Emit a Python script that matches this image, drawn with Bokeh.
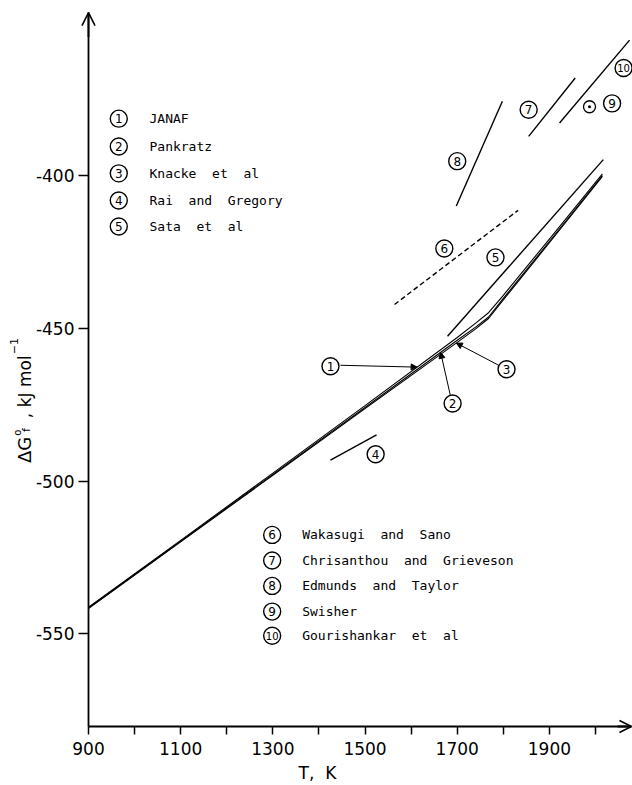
import math
import numpy as np
from bokeh.plotting import figure
from bokeh.models import Range1d, FixedTicker, Arrow, OpenHead, NormalHead, Label
from bokeh.core.properties import value
from bokeh.embed import file_html
from bokeh.resources import INLINE

# ---------------- data ----------------
# main assessed curves (T in K, dGf in kJ/mol)
T_curve    = [900, 1100, 1300, 1500, 1700, 1740, 1768, 1800, 1900, 2015]
G_janaf    = [-541.3, -519.4, -497.4, -475.3, -453.0, -448.3, -444.9, -439.2, -420.8, -399.5]
G_pankratz = [-541.5, -519.7, -497.8, -475.9, -453.9, -449.6, -446.3, -440.2, -421.6, -400.0]
G_knacke   = [-541.7, -519.9, -498.1, -476.3, -454.6, -450.2, -446.8, -440.7, -422.0, -400.3]

# experimental segments
T_sata,  G_sata  = [1679, 2017], [-452.6, -394.8]
T_rai,   G_rai   = [1425, 1525], [-493.1, -484.9]
T_waka,  G_waka  = [1564, 1832], [-442.2, -411.4]
T_chris, G_chris = [1855, 1956], [-387.2, -368.1]
T_edm,   G_edm   = [1698, 1798], [-410.0, -375.7]
T_gouri, G_gouri = [1922, 2074], [-382.8, -355.7]
T_swish, G_swish = [1987], [-377.5]

NB = "\u00a0"
ref_numbers = ["1", "2", "3", "4", "5", "6", "7", "8", "9", "10"]
ref_names = ["JANAF", "Pankratz", "Knacke  et  al", "Rai  and  Gregory", "Sata  et  al",
             "Wakasugi  and  Sano", "Chrisanthou  and  Grieveson", "Edmunds  and  Taylor",
             "Swisher", "Gourishankar  et  al"]

x_ticks = [900, 1000, 1100, 1200, 1300, 1400, 1500, 1600, 1700, 1800, 1900, 2000]
x_tick_labels = ["900", "", "1100", "", "1300", "", "1500", "", "1700", "", "1900", ""]
y_ticks = [-550, -500, -450, -400]
y_tick_labels = ["-550", "-500", "-450", "-400"]

# ---------------- layout (annotation positions) ----------------
tag_T = [1425, 1690, 1807, 1523, 1783, 1672, 1855, 1700, 2036, 2061]
tag_G = [-462.4, -474.6, -463.4, -491.2, -426.8, -423.9, -378.5, -395.3, -376.4, -364.8]
leg_circle_T = [965.7] * 5 + [1298.5] * 5
leg_text_T = [1032.3] * 5 + [1363.6] * 5
leg_G = [-381.4, -390.5, -399.3, -408.2, -416.7, -517.6, -526.0, -534.3, -542.7, -550.6]

PX_PER_K = 0.4609
PX_PER_KJ = 3.056
AX_T = 900.0            # where the vertical axis stands
AX_G = -580.3           # where the horizontal axis lies
T_END = 2078.0          # tip of the x arrow
G_END = -346.7          # tip of the y arrow

W, H = 632, 785
x_lo = AX_T - 88 / PX_PER_K
x_hi = x_lo + W / PX_PER_K
y_hi = -400 + 175 / PX_PER_KJ
y_lo = y_hi - H / PX_PER_KJ

p = figure(width=W, height=H, x_range=Range1d(x_lo, x_hi), y_range=Range1d(y_lo, y_hi),
           output_backend="svg", toolbar_location=None, min_border=0,
           min_border_left=0, min_border_right=0, min_border_top=0, min_border_bottom=0)
p.outline_line_color = None
p.xgrid.visible = False
p.ygrid.visible = False
p.background_fill_color = "white"
p.border_fill_color = "white"

for ax in (p.xaxis[0], p.yaxis[0]):
    ax.axis_line_width = 1.8
    ax.axis_line_color = "black"
    ax.major_tick_line_width = 1.5
    ax.major_tick_line_color = "black"
    ax.major_tick_in = 0
    ax.minor_tick_line_color = None
    ax.major_label_text_font = "DejaVu Sans"
    ax.major_label_text_font_size = "17px"
    ax.major_label_text_color = "black"

p.xaxis.fixed_location = AX_G
p.xaxis.bounds = (AX_T, T_END)
p.xaxis.ticker = FixedTicker(ticks=x_ticks)
p.xaxis.major_label_overrides = {t: s for t, s in zip(x_ticks, x_tick_labels)}
p.xaxis.major_tick_out = 8
p.xaxis.major_label_standoff = 8

p.yaxis.fixed_location = AX_T
p.yaxis.bounds = (AX_G, G_END)
p.yaxis.ticker = FixedTicker(ticks=y_ticks)
p.yaxis.major_label_overrides = {t: s for t, s in zip(y_ticks, y_tick_labels)}
p.yaxis.major_tick_out = 10
p.yaxis.major_label_standoff = 4

# axis arrows
p.add_layout(Arrow(end=OpenHead(size=12, line_width=1.6, line_color="black"),
                   x_start=T_END - 30, y_start=AX_G, x_end=T_END, y_end=AX_G,
                   line_width=1.8, line_color="black"))
p.add_layout(Arrow(end=OpenHead(size=13, line_width=1.6, line_color="black"),
                   x_start=AX_T, y_start=G_END - 8, x_end=AX_T, y_end=G_END,
                   line_width=1.8, line_color="black"))

# main curves
for G in (G_janaf, G_pankratz, G_knacke):
    p.line(T_curve, G, line_color="black", line_width=1.1)

# experimental lines
for T, G in ((T_sata, G_sata), (T_rai, G_rai), (T_chris, G_chris),
             (T_edm, G_edm), (T_gouri, G_gouri)):
    p.line(T, G, line_color="black", line_width=1.4)
p.line(T_waka, G_waka, line_color="black", line_width=1.4, line_dash="5 3")
p.scatter(T_swish, G_swish, marker="circle_dot", size=12, fill_color=None,
          line_color="black", line_width=1.3)

# pointers for 1, 2, 3
ptr_start = [(1446.6, -462.1), (1685.0, -471.9), (1790.0, -462.1)]
ptr_tip_T = [1613, 1664, 1698]
for (xs, ys), tt, G in zip(ptr_start, ptr_tip_T, (G_janaf, G_pankratz, G_knacke)):
    ye = float(np.interp(tt, T_curve, G))
    p.add_layout(Arrow(end=NormalHead(size=6, fill_color="black", line_color="black", line_width=1),
                       x_start=xs, y_start=ys, x_end=tt, y_end=ye,
                       line_width=1.0, line_color="black"))

# circled tags
def circled(xs, ys, nums):
    p.scatter(xs, ys, marker="circle", size=17, fill_color="white",
              line_color="black", line_width=1.4)
    p.text(xs, ys, text=list(nums), text_align="center", text_baseline="middle",
           text_font=value("DejaVu Sans"),
           text_font_size=[("10px" if len(n) > 1 else "12px") for n in nums],
           text_color="black")

circled(tag_T, tag_G, ref_numbers)
circled(leg_circle_T, leg_G, ref_numbers)
p.text(leg_text_T, leg_G, text=[s.replace(" ", NB) for s in ref_names],
       text_align="left", text_baseline="middle",
       text_font=value("DejaVu Sans Mono"), text_font_size=value("13px"), text_color="black")

# x axis title
p.add_layout(Label(x=1396.8, y=-595.4, text="T," + NB * 2 + "K", text_align="center",
                   text_baseline="alphabetic",
                   text_font="DejaVu Sans", text_font_size="17px", text_color="black"))

# y axis title (composite, rotated)
def ylab(txt, gy, xoff, size):
    p.add_layout(Label(x=AX_T, y=gy, x_offset=xoff, text=txt, angle=math.pi / 2,
                       text_align="left", text_baseline="alphabetic",
                       text_font="DejaVu Sans", text_font_size=size, text_color="black"))

ylab("ΔG", -494.1, -64, "18px")
ylab("o", -485.2, -71, "10px")
ylab("f", -483.9, -62, "11px")
ylab("," + NB + "kJ" + NB + "mol", -479.4, -64, "17px")
ylab("−1", -458.5, -74.5, "11px")

open("out.html", "w").write(file_html(p, INLINE))
